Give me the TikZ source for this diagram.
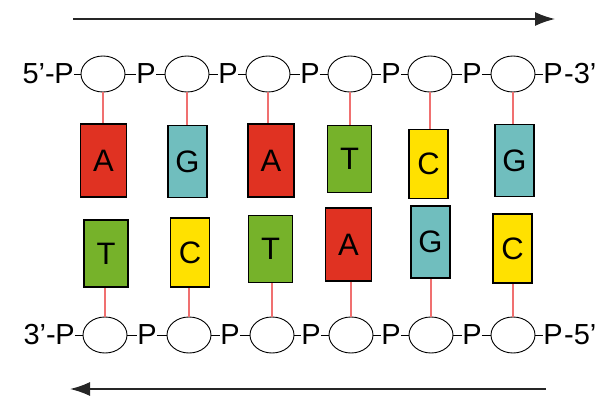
\documentclass[tikz,border=0pt]{standalone}
\usepackage{fontspec}
\setmainfont{Liberation Sans}
\usetikzlibrary{shapes.geometric,arrows.meta}
\definecolor{baseRed}{HTML}{E03222}
\definecolor{baseTeal}{HTML}{70BEBE}
\definecolor{baseGreen}{HTML}{76B22A}
\definecolor{baseYellow}{HTML}{FFE100}
\definecolor{bondRed}{HTML}{F07070}
\begin{document}
\begin{tikzpicture}[x=1pt,y=-1pt,
sugar/.style={%
draw, ellipse, line width=0.9pt,
minimum width=44pt, minimum height=36pt, inner sep=0pt
},
phos/.style={inner sep=0pt, font=\fontsize{29}{29}\selectfont},
base/.style={draw, line width=1.3pt, inner sep=0pt,
font=\fontsize{31}{31}\selectfont},
baseA/.style={base, fill=baseRed, minimum width=46pt, minimum height=73pt},
baseT/.style={base, fill=baseGreen, minimum width=44pt, minimum height=67pt},
baseG/.style={base, fill=baseTeal, minimum width=39pt, minimum height=72pt},
baseC/.style={base, fill=baseYellow, minimum width=39pt, minimum height=69pt},
bond/.style={draw=bondRed, line width=1.2pt},
link/.style={line width=1pt},
dir/.style={line width=1.6pt, draw=black!85, -{Latex[length=20pt,width=14pt]}}
]
\useasboundingbox(0,0)rectangle(603,402);
%% Direction arrows
\coordinate(d1s)at(73,19);
\coordinate(d1e)at(555,19);
\draw[dir](d1s)--(d1e);
\coordinate(d2s)at(546,389);
\coordinate(d2e)at(70,389);
\draw[dir](d2s)--(d2e);
%% Top strand
\foreach \i/\x in {1/103,2/187,3/268,4/350,5/430,6/513}{
\node[sugar]at(\x,74)(ts\i){};
}
\foreach \i/\x in {0/64,1/146,2/228,3/310,4/391,5/472,6/553}{
\node[phos]at(\x,74)(tp\i){P};
}
\foreach \i/\j in {1/0,2/1,3/2,4/3,5/4,6/5}{
\draw[link](tp\j)--(ts\i);
\draw[link](ts\i)--(tp\i);
}
\node[phos,anchor=east]at(55,74)(top5){5'-};
\node[phos,anchor=west]at(564,74)(top3){-3'};
%% Bottom strand
\foreach \i/\x in {1/105,2/189,3/272,4/351,5/431,6/513}{
\node[sugar]at(\x,335)(bs\i){};
}
\foreach \i/\x in {0/65,1/147,2/230,3/311,4/391,5/472,6/553}{
\node[phos]at(\x,335)(bp\i){P};
}
\foreach \i/\j in {1/0,2/1,3/2,4/3,5/4,6/5}{
\draw[link](bp\j)--(bs\i);
\draw[link](bs\i)--(bp\i);
}
\node[phos,anchor=east]at(56,335)(bot3){3'-};
\node[phos,anchor=west]at(564,335)(bot5){-5'};
%% Bases
\foreach \i/\x/\y/\b in {1/103.5/160.5/A,2/187.5/161.5/G,3/271/160.5/A,
4/349.5/159/T,5/428.5/164/C,6/514.5/160.5/G}{
\node[base\b]at(\x,\y)(tb\i){\b};
\draw[bond](ts\i.south)--(ts\i.south|-tb\i.north);
}
\foreach \i/\x/\y/\b in {1/106/253.5/T,2/190/252.5/C,3/270.5/249/T,
4/348.5/244.5/A,5/430.5/242/G,6/512.5/248.5/C}{
\node[base\b]at(\x,\y)(bb\i){\b};
\draw[bond](bs\i.north)--(bs\i.north|-bb\i.south);
}
\end{tikzpicture}
\end{document}
